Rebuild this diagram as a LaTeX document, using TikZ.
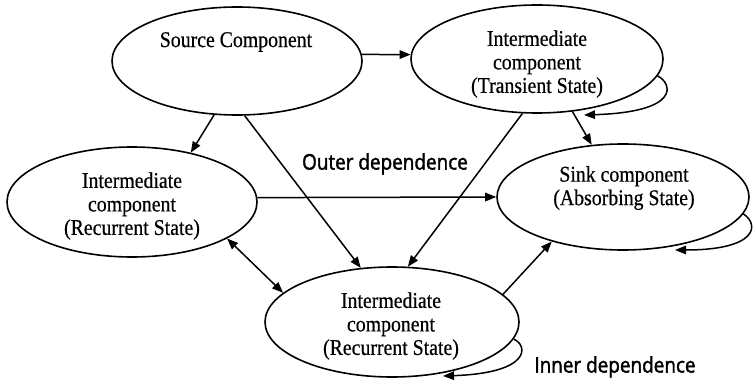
\documentclass[tikz,border=0pt]{standalone}
\usepackage{fontspec}
\setmainfont{Liberation Serif}[FakeStretch=0.88, FakeBold=0.5]
\newfontfamily\lblfont{Open Sans}[FakeStretch=0.88, FakeBold=1.8]
\usetikzlibrary{shapes.geometric,arrows.meta}
\begin{document}
\begin{tikzpicture}[x=1pt,y=-1pt,
  comp/.style={draw, ellipse, line width=1.6pt, inner sep=0pt},
  txt/.style={align=center, font=\fontsize{22.5}{23.5}\selectfont, inner sep=0pt},
  dep/.style={font=\lblfont\fontsize{21.5}{24}\selectfont, inner sep=0pt},
  tip/.tip={Triangle[length=11pt,width=8.5pt]},
  arr/.style={line width=1.5pt, -tip},
  darr/.style={line width=1.5pt, tip-tip}]
\useasboundingbox (0,0) rectangle (754,382);

% components
\node[comp, minimum width=250pt, minimum height=108pt] (S) at (237,61) {};
\node[comp, minimum width=252pt, minimum height=108pt] (T) at (537,59) {};
\node[comp, minimum width=250pt, minimum height=110pt] (L) at (132,202) {};
\node[comp, minimum width=252pt, minimum height=106pt] (K) at (623,197) {};
\node[comp, minimum width=254pt, minimum height=110pt] (B) at (392,322) {};

% component texts
\node[txt] (St) at (236,42) {Source Component};
\node[txt] (Tt) at (537,64) {Intermediate\\component\\(Transient State)};
\node[txt] (Lt) at (132,206) {Intermediate\\component\\(Recurrent State)};
\node[txt] (Kt) at (624,188) {Sink component\\(Absorbing State)};
\node[txt] (Bt) at (391,326) {Intermediate\\component\\(Recurrent State)};

% dependence labels
\node[dep] (outer) at (385,164) {Outer dependence};
\node[dep] (inner) at (615,367) {Inner dependence};

% outer dependence connectors
\draw[arr] (S.3) -- (T.178);
\draw[arr] (S.247) -- (L.40);
\draw[arr] (S.278) -- (B.120);
\draw[arr] (T.255) -- (B.74);
\draw[arr] (T.304) -- (K.121);
\draw[arr] (L.2) -- (K.180);
\draw[darr] (L.339) -- (B.165);
\draw[arr] (B.14) -- (K.212);

% inner dependence loops
\draw[arr] (T.-8.5) .. controls (672,83) and (682,112) .. (584,115);
\draw[arr] (K.-8.6) .. controls (760,225) and (757,250) .. (675,250);
\draw[arr] (B.-8.5) .. controls (528,345) and (532,373) .. (443,376);
\end{tikzpicture}
\end{document}
